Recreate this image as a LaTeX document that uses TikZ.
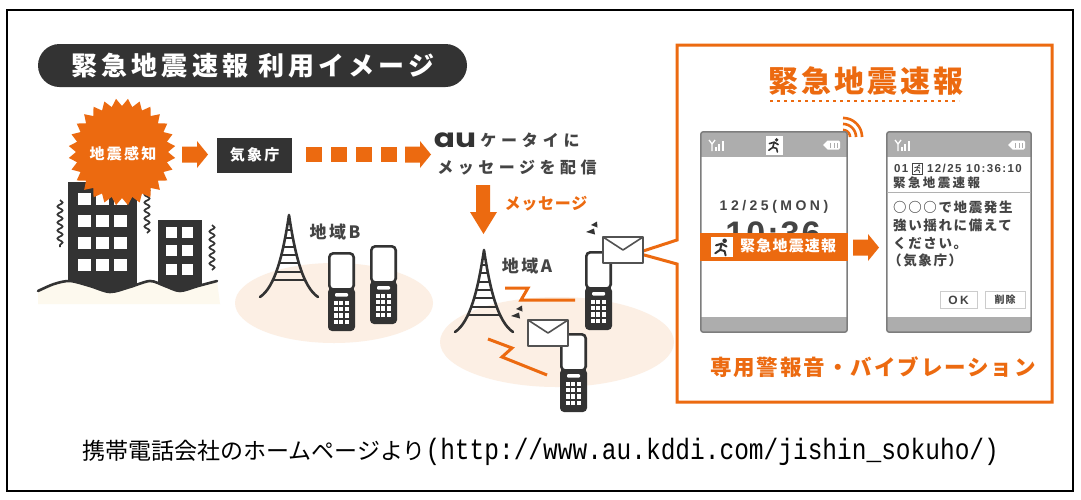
\documentclass[tikz,border=0pt]{standalone}
\usepackage{graphicx}
\usepackage{fontspec}
\setmainfont{Noto Sans CJK JP}
\newfontfamily\latinsans{Liberation Sans}
\newfontfamily\logofont{Poppins}
\newfontfamily\urlfont{Liberation Mono}
\usetikzlibrary{shapes.geometric,decorations.pathmorphing}

\definecolor{auorange}{HTML}{EC6A10}
\definecolor{inkdark}{HTML}{333333}
\definecolor{textgray}{HTML}{444444}
\definecolor{peach}{HTML}{FCEFE4}
\definecolor{cream}{HTML}{FDF9EE}
\definecolor{bargray}{HTML}{ADADAD}
\definecolor{screenedge}{HTML}{7D7D7D}

\newcommand\fsz[1]{\fontsize{#1}{#1}\selectfont}
\newcommand\track[1]{\addfontfeatures{LetterSpace=#1}}

\tikzset{
  txt/.style={inner sep=0pt},
  squiggle/.style={draw=inkdark, line width=1.7pt, decorate,
    decoration={snake, amplitude=2.6pt, segment length=8pt}},
  zap/.style={draw=auorange, line width=3pt, line join=miter},
  % orange block arrow pointing right, origin at the tail centre
  rarrow/.pic={\fill[auorange] (0,-8) -- (15,-8) -- (15,-13.5) -- (26,0)
    -- (15,13.5) -- (15,8) -- (0,8) -- cycle;},
  % lattice radio tower, origin at the apex
  tower/.pic={
    \begin{scope}
      \clip (0,0) .. controls (-6,40) and (-14,72) .. (-29,82) -- (29,82)
        .. controls (14,72) and (6,40) .. (0,0) -- cycle;
      \foreach \h in {15,23.3,31.6,40,48.3,56.6,65}
        \draw[inkdark, line width=1.8pt] (-30,\h) -- (30,\h);
    \end{scope}
    \draw[inkdark, line width=2.6pt, line join=round, line cap=round]
      (-29,82) .. controls (-14,72) and (-6,40) .. (0,0)
      .. controls (6,40) and (14,72) .. (29,82);
  },
  % flip phone, origin at the top left corner
  flipphone/.pic={
    \fill[inkdark, rounded corners=4pt] (0,36) rectangle (27,79);
    \draw[inkdark, line width=2.6pt, fill=white, rounded corners=4pt]
      (1.3,1.3) rectangle (25.7,37.5);
    \fill[white, rounded corners=1pt] (7,41) rectangle (20,44.5);
    \foreach \c in {0,1,2} \foreach \r in {0,1,2,3}
      \fill[white] ({5.5+\c*5.8},{49+\r*6.2}) rectangle ++(4,4.2);
  },
  % mail envelope, origin at the top left corner
  envelope/.pic={
    \draw[inkdark!85, line width=1.6pt, fill=white, line join=round]
      (0,0) rectangle (40,26);
    \draw[inkdark!85, line width=1.6pt, line join=round]
      (0,0) -- (20,13) -- (40,0);
  },
  % two little ringing marks
  ringmark/.pic={
    \fill[inkdark] (-1,-4) -- (5,-7.5) -- (5.5,-1.5) -- cycle;
    \fill[inkdark] (-6,3) -- (2,-0.5) -- (3,5.5) -- cycle;
  },
  % signal strength glyph, origin at the top left
  antenna/.pic={
    \draw[white, line width=1.3pt] (0,0) -- (3,4) -- (6,0) (3,4) -- (3,11);
    \fill[white] (5.5,7) rectangle (7.5,11);
    \fill[white] (9,4) rectangle (11,11);
    \fill[white] (12.5,1) rectangle (14.5,11);
  },
  % battery glyph, origin at the top left
  battery/.pic={
    \fill[white, rounded corners=1.5pt] (3,0) rectangle (17,9);
    \fill[white] (0,4.5) -- (3,1.5) -- (3,7.5) -- cycle;
    \foreach \b in {7,10.5,14} \fill[bargray] (\b,2) rectangle ++(1.3,5);
  },
  % running person, origin at the figure centre
  runner/.pic={
    \fill (2.6,-5.2) circle (1.9);
    \draw[line cap=round, line join=round] (-4.6,-1.4) -- (0.2,-2.8) -- (4.2,-0.4);
    \draw[line cap=round, line join=round] (0.2,-2.8) -- (-1.2,2.4) -- (-5.2,5.2);
    \draw[line cap=round, line join=round] (-1.2,2.4) -- (2.6,3.4) -- (3.4,7);
  },
}

\begin{document}
\begin{tikzpicture}[x=1pt,y=-1pt]
  % canvas and outer frame
  \fill[white] (0,0) rectangle (1081,499);
  \useasboundingbox (0,0) rectangle (1081,499);
  \draw[black, line width=2pt] (7,10) rectangle (1073,491);

  % heading pill
  \node[fill=inkdark, rounded corners=21.5pt, minimum width=429pt,
        minimum height=43pt, inner sep=0pt] (titlebar) at (252.5,65.5) {};
  \node[txt, text=white, font=\bfseries\fsz{26}\track{16}] (titletext)
        at (253,66) {緊急地震速報\hspace{10pt}利用イメージ};

  % coverage areas
  \fill[peach] (334,303) ellipse [x radius=99, y radius=40];
  \fill[peach] (557,342) ellipse [x radius=117, y radius=45];

  % shaking buildings
  \fill[inkdark] (68,182) rectangle (137,298);
  \fill[inkdark] (158,220) rectangle (202,298);
  \foreach \wx in {78,96,114} \foreach \wy in {193,215,237,259}
    \fill[white] (\wx,\wy) rectangle ++(13,12);
  \foreach \wx in {166,182} \foreach \wy in {227,245,264}
    \fill[white] (\wx,\wy) rectangle ++(11,11);
  \fill[cream] plot[smooth] coordinates {(38,291) (54,284) (70,281) (90,286)
    (110,292) (130,287) (150,281) (165,286) (180,291) (198,286) (217,281)}
    -- (220,304) -- (38,304) -- cycle;
  \draw[inkdark, line width=2.6pt, line cap=round] plot[smooth] coordinates
    {(38,291) (54,284) (70,281) (90,286) (110,292) (130,287) (150,281)
     (165,286) (180,291) (198,286) (217,281)};
  \draw[squiggle] (60,200) -- (60,247);
  \draw[squiggle] (147,188) -- (147,233);
  \draw[squiggle] (212,225) -- (212,270);

  % detection burst
  \node[star, star points=28, star point ratio=0.86, fill=auorange,
        minimum size=92pt, inner sep=0pt] (burst) at (122,152) {};
  \node[txt, text=white, font=\bfseries\fsz{15}\track{15}] (burstText)
        at (123,154) {地震感知};

  % flow along the top row
  \pic at (182,154.5) {rarrow};
  \node[fill=inkdark, minimum width=75pt, minimum height=35pt, inner sep=0pt,
        text=white, font=\bfseries\fsz{15}\track{15}] (jma) at (254.5,155) {気象庁};
  \foreach \sx in {306,331,356,381} \fill[auorange] (\sx,147) rectangle ++(16,15);
  \pic at (405,154.5) {rarrow};

  \node[txt, text=inkdark, font=\logofont\bfseries\fsz{26}] (aulogo)
        at (455,140) {\scalebox{1.2}[1]{au}};
  \node[txt, text=textgray, font=\bfseries\fsz{16}\track{30}] (keitai)
        at (530,140.5) {ケータイに};
  \node[txt, text=textgray, font=\bfseries\fsz{16}\track{28}] (haishin)
        at (517,167.5) {メッセージを配信};
  \fill[auorange] (476,185) -- (490,185) -- (490,212) -- (497,212)
    -- (483.5,234) -- (470,212) -- (476,212) -- cycle;
  \node[txt, text=auorange, font=\bfseries\fsz{16}\track{5}] (msg)
        at (546,204) {メッセージ};

  % towers and areas
  \pic at (289,215) {tower};
  \pic at (484,250) {tower};
  \node[txt, text=textgray, font=\bfseries\fsz{17}\track{15}] (areaB) at (335,232.5) {地域B};
  \node[txt, text=textgray, font=\bfseries\fsz{17}\track{15}] (areaA) at (527,266.5) {地域A};

  % radio links
  \draw[zap] (505,288) -- (528,288) -- (521,300) -- (575,300);
  \draw[zap] (488,339) -- (512,348) -- (502,357) -- (547,375);

  % alert panel with its pointer
  \draw[auorange, line width=3pt, fill=white] (677,264) -- (677,402)
    -- (1052,402) -- (1052,45) -- (677,45) -- (677,240) -- (637,253) -- cycle;

  % handsets
  \pic at (328,252) {flipphone};
  \pic at (370,245) {flipphone};
  \pic at (585,251) {flipphone};
  \pic at (560,333) {flipphone};
  \pic at (603,237) {envelope};
  \pic at (528,320) {envelope};
  \pic at (592,229) {ringmark};
  \pic at (517,313) {ringmark};

  % panel heading
  \node[txt, text=auorange, font=\bfseries\fsz{30}\track{10}] (alertTitle)
        at (866,81.5) {緊急地震速報};
  \draw[auorange, line width=2.6pt, dash pattern=on 2.6pt off 4.4pt]
    (770,101) -- (959,101);
  \foreach \r in {7,13,19}
    \draw[auorange, line width=2.6pt]
      plot[domain=0:90, samples=24] ({843+\r*cos(\x)},{137-\r*sin(\x)});

  % standby screen
  \node[fill=white, minimum width=146pt, minimum height=200pt, inner sep=0pt]
        (scrA) at (774,232) {};
  \fill[bargray] (701,132) rectangle (847,157);
  \fill[bargray] (701,317) rectangle (847,332);
  \draw[screenedge, line width=1.5pt, rounded corners=2.5pt]
    (scrA.north west) rectangle (scrA.south east);
  \pic at (709,140) {antenna};
  \pic at (823,140.5) {battery};
  \node[fill=white, minimum width=17pt, minimum height=19pt, inner sep=0pt]
        (hdrIcon) at (774,145) {};
  \pic[inkdark, line width=1.6pt] at (hdrIcon) {runner};
  \node[txt, text=textgray, font=\latinsans\bfseries\fsz{14}\track{25}] (dateA)
        at (774,207) {12/25(MON)};
  % the clock sits behind the banner, only its top shows
  \begin{scope}
    \clip (701,212) rectangle (847,233);
    \node[txt, text=textgray, font=\latinsans\bfseries\fsz{34}\track{6}] (timeA)
          at (773,234) {10:36};
  \end{scope}
  \node[fill=auorange, minimum width=148pt, minimum height=28pt, inner sep=0pt]
        (bannerA) at (774,247) {};
  \node[fill=white, minimum width=22pt, minimum height=20pt, inner sep=0pt]
        (bannerIcon) at (721.5,247) {};
  \pic[inkdark, line width=2pt, scale=1.2] at (bannerIcon) {runner};
  \node[txt, anchor=west, text=white, font=\bfseries\fsz{15}\track{8}]
        (bannerText) at (740,246) {緊急地震速報};

  \pic at (853,247.5) {rarrow};

  % message screen
  \node[fill=white, minimum width=144pt, minimum height=200pt, inner sep=0pt]
        (scrB) at (959,232) {};
  \fill[bargray] (887,132) rectangle (1031,157);
  \fill[bargray] (887,317) rectangle (1031,332);
  \draw[screenedge, line width=1.5pt, rounded corners=2.5pt]
    (scrB.north west) rectangle (scrB.south east);
  \pic at (895,140) {antenna};
  \pic at (1008,140.5) {battery};
  \node[txt, anchor=west, text=textgray, font=\latinsans\bfseries\fsz{11.5}\track{12}]
        (rowNo) at (894,168.5) {01};
  \node[draw=textgray, line width=0.8pt, fill=white, minimum width=10pt,
        minimum height=11pt, inner sep=0pt] (rowIcon) at (917.5,168.5) {};
  \pic[textgray, line width=0.9pt, scale=0.6] at (rowIcon) {runner};
  \node[txt, anchor=west, text=textgray, font=\latinsans\bfseries\fsz{11.5}\track{12}]
        (rowStamp) at (927,168.5) {12/25 10:36:10};
  \node[txt, anchor=west, text=textgray, font=\bfseries\fsz{12.5}\track{19}]
        (rowTitle) at (893,182.5) {緊急地震速報};
  \draw[screenedge!60, line width=1pt] (scrB.west |- 0,192) -- (scrB.east |- 0,192);
  \node[txt, anchor=west, text=textgray, font=\bfseries\fsz{13.5}\track{12}]
        (bodyA) at (893,207) {○○○で地震発生};
  \node[txt, anchor=west, text=textgray, font=\bfseries\fsz{13.5}\track{12}]
        (bodyB) at (893,225) {強い揺れに備えて};
  \node[txt, anchor=west, text=textgray, font=\bfseries\fsz{13.5}\track{12}]
        (bodyC) at (893,243) {ください。};
  \node[txt, anchor=west, text=textgray, font=\bfseries\fsz{13.5}\track{12}]
        (bodyD) at (888,260) {（気象庁）};
  \node[draw=gray!40, line width=1pt, fill=white, minimum width=37pt,
        minimum height=17pt, inner sep=0pt, text=textgray,
        font=\latinsans\bfseries\fsz{12}\track{20}] (okBtn) at (958.5,300) {OK};
  \node[draw=gray!40, line width=1pt, fill=white, minimum width=40pt,
        minimum height=17pt, inner sep=0pt, text=textgray,
        font=\bfseries\fsz{10}\track{10}] (delBtn) at (1005,300) {削除};

  % panel footer
  \node[txt, text=auorange, font=\bfseries\fsz{21.5}\track{9}] (soundText)
        at (873,367.5) {専用警報音・バイブレーション};

  % source line
  \node[txt, anchor=west, font=\fsz{23}] (caption) at (82,452)
    {携帯電話会社のホームページより\scalebox{1}[1.2]{\urlfont\fsz{24.5}(http://www.au.kddi.com/jishin\_sokuho/)}};
\end{tikzpicture}
\end{document}
